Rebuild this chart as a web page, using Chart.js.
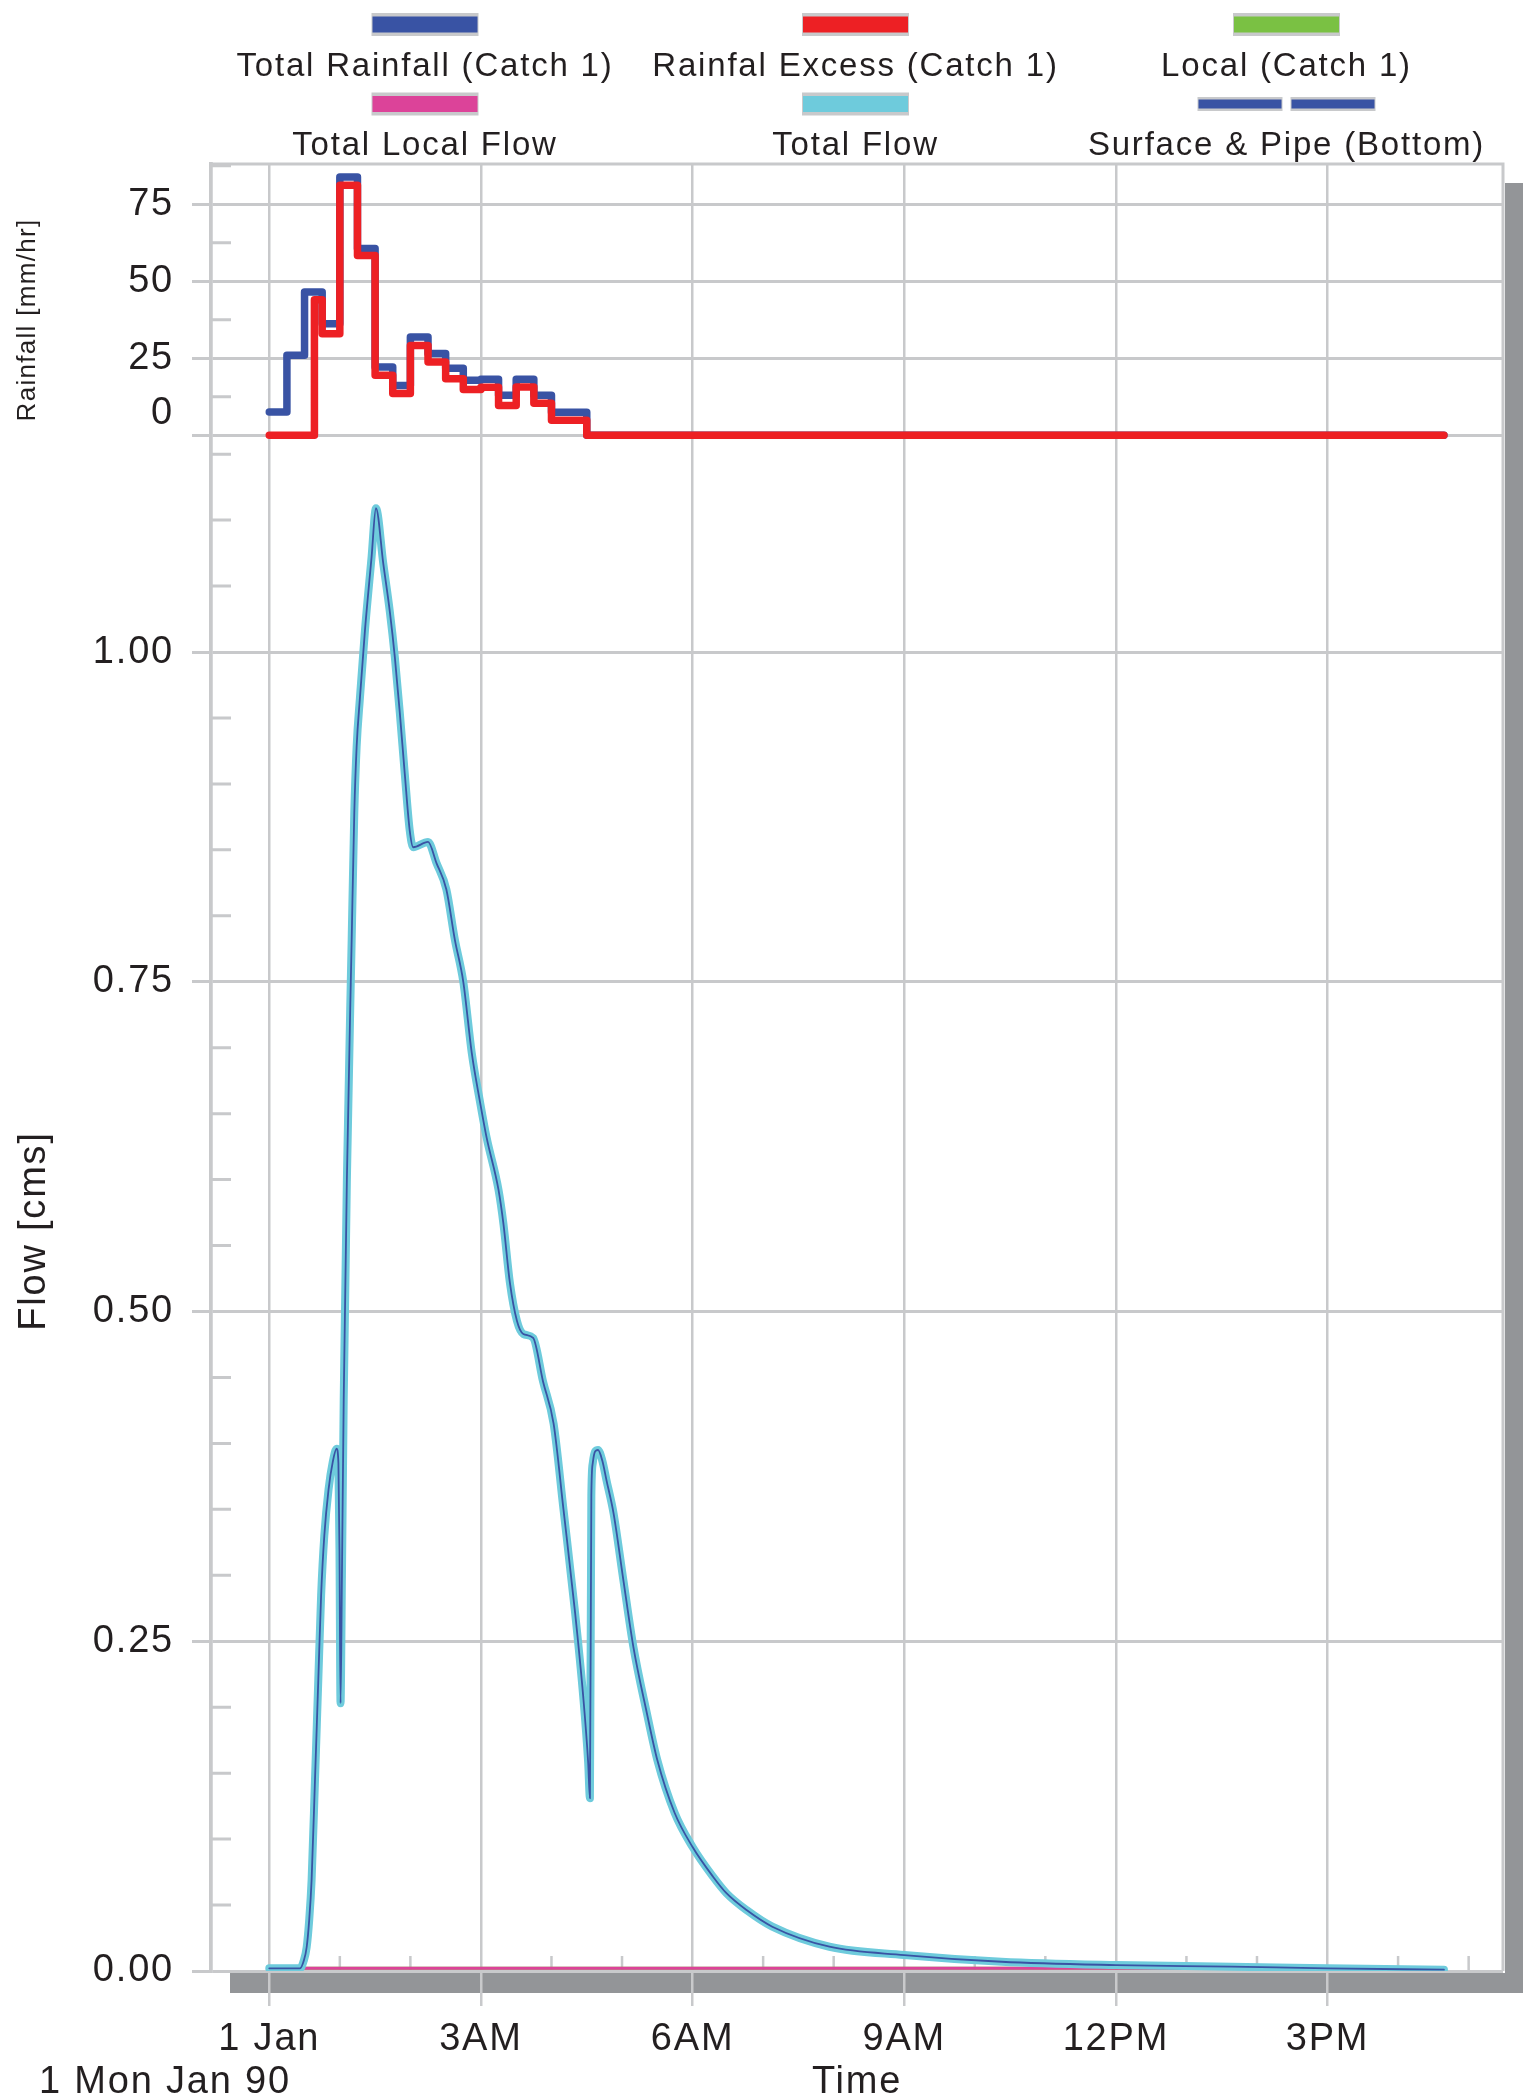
<!DOCTYPE html>
<html>
<head>
<meta charset="utf-8">
<title>Rainfall and Flow</title>
<script src="https://cdn.jsdelivr.net/npm/chart.js@4/dist/chart.umd.min.js"></script>
<style>
  html, body { margin: 0; padding: 0; background: #ffffff; }
  canvas { display: block; }
</style>
</head>
<body>
<canvas id="hydro" width="1523" height="2099"></canvas>
<script>
// Time is in hours after midnight, Mon 1 Jan 1990.

// Rainfall hyetographs (15-minute blocks, mm/hr); each value holds until the next time.
const rainTimes = [0, 0.25, 0.5, 0.75, 1.0, 1.25, 1.5, 1.75, 2.0, 2.25, 2.5, 2.75, 3.0, 3.25, 3.5, 3.75, 4.0, 4.25, 4.5, 16.65];
const totalRainfall = [7.6, 26.0, 46.5, 36.2, 83.9, 60.7, 22.2, 16.2, 31.9, 26.6, 21.8, 17.9, 18.2, 13.0, 18.2, 13.0, 7.5, 7.5, 0, 0];

const excessTimes = [0, 0.64, 0.75, 1.0, 1.25, 1.5, 1.75, 2.0, 2.25, 2.5, 2.75, 3.0, 3.25, 3.5, 3.75, 4.0, 4.25, 4.5, 16.65];
const rainfallExcess = [0, 44.0, 33.0, 81.2, 58.4, 19.5, 13.6, 29.2, 23.8, 18.4, 14.9, 15.6, 9.7, 15.7, 10.4, 4.9, 4.9, 0, 0];

// Outflow hydrograph (cms)
const flowTimes = [
  0, 0.435, 0.49, 0.53, 0.565, 0.60, 0.648, 0.695, 0.735, 0.78, 0.84, 0.90, 0.955, 0.98, 0.995,
  1.01, 1.03, 1.055, 1.10, 1.168, 1.205, 1.238, 1.286, 1.357, 1.45, 1.512, 1.616, 1.71, 1.78, 1.85, 1.92,
  1.99, 2.04, 2.25, 2.37, 2.51, 2.63, 2.75, 2.87, 2.99, 3.08, 3.25, 3.32, 3.41, 3.51, 3.60, 3.74, 3.88,
  4.03, 4.17, 4.33, 4.45, 4.52, 4.545, 4.565, 4.585, 4.62, 4.66, 4.72, 4.78, 4.88, 5.02, 5.16, 5.35, 5.50,
  5.745, 6.0, 6.29, 6.48, 6.77, 7.13, 7.94, 9.0, 10.38, 12.0, 13.64, 15.0, 16.65
];
const totalFlow = [
  0.002, 0.002, 0.008, 0.018, 0.038, 0.069, 0.145, 0.221, 0.285, 0.330, 0.365, 0.386, 0.396, 0.385, 0.320,
  0.203, 0.300, 0.433, 0.600, 0.782, 0.878, 0.928, 0.966, 1.017, 1.072, 1.109, 1.067, 1.030, 0.996, 0.954, 0.908,
  0.865, 0.852, 0.856, 0.840, 0.820, 0.782, 0.750, 0.696, 0.658, 0.632, 0.592, 0.566, 0.522, 0.493, 0.483, 0.480, 0.447,
  0.415, 0.350, 0.274, 0.208, 0.158, 0.131, 0.360, 0.385, 0.394, 0.395, 0.387, 0.372, 0.347, 0.296, 0.246, 0.196, 0.160,
  0.120, 0.094, 0.0715, 0.059, 0.046, 0.0336, 0.0184, 0.0121, 0.007, 0.0045, 0.0033, 0.002, 0.001
];
// The surface & pipe hydrograph at the outlet coincides with the total flow.
const surfacePipeFlow = totalFlow;

const localTimes = [0, 0.5, 4, 8, 12, 16.65];
const totalLocalFlow = [0.002, 0.002, 0.002, 0.002, 0.002, 0.002];
const localCatch1 = totalLocalFlow;

// Axis ticks
const timeTicks = [0, 3, 6, 9, 12, 15];
const timeTickLabels = ['1 Jan', '3AM', '6AM', '9AM', '12PM', '3PM'];
const timeMinorTicks = [1, 2, 4, 5, 7, 8, 10, 11, 13, 14, 16, 17];

const flowTicks = [0, 0.25, 0.5, 0.75, 1.0];
const flowTickLabels = ['0.00', '0.25', '0.50', '0.75', '1.00'];
const flowMinorTicks = [0.05, 0.10, 0.15, 0.20, 0.30, 0.35, 0.40, 0.45, 0.55, 0.60, 0.65, 0.70,
                        0.80, 0.85, 0.90, 0.95, 1.05, 1.10, 1.15];

const rainTicks = [0, 25, 50, 75];
const rainTickLabels = ['0', '25', '50', '75'];
const rainMinorTicks = [12.5, 37.5, 62.5, 87.5];

// ---- styling ----
const FONT = '"Liberation Sans", Arial, Helvetica, sans-serif';
const INK = '#231f20';
const GRID = '#c8c9cb';
const SHADOW = '#939598';
const SPACING = '1.8px';
const ZERO_LABEL_LIFT = 7.15;   // the rainfall "0" label sits a little above its line

const pts = (xs, ys) => xs.map((x, i) => ({ x, y: ys[i] }));

const lineBase = {
  pointRadius: 0,
  pointHoverRadius: 0,
  fill: false,
  borderCapStyle: 'round',
  borderJoinStyle: 'round'
};
const flowClip = { left: 20, top: 20, right: 20, bottom: 0 };

const datasets = [
  Object.assign({}, lineBase, {
    label: 'Total Rainfall (Catch 1)', data: pts(rainTimes, totalRainfall), yAxisID: 'yR',
    borderColor: '#3953a4', borderWidth: 7.5, stepped: true, order: 3
  }),
  Object.assign({}, lineBase, {
    label: 'Rainfal Excess (Catch 1)', data: pts(excessTimes, rainfallExcess), yAxisID: 'yR',
    borderColor: '#ed2024', borderWidth: 7.5, stepped: true, order: 2
  }),
  Object.assign({}, lineBase, {
    label: 'Local (Catch 1)', data: pts(localTimes, localCatch1), yAxisID: 'y',
    borderColor: '#7ac143', borderWidth: 3, clip: flowClip, order: 5
  }),
  Object.assign({}, lineBase, {
    label: 'Total Local Flow', data: pts(localTimes, totalLocalFlow), yAxisID: 'y',
    borderColor: '#dc4399', borderWidth: 3, clip: flowClip, order: 4
  }),
  Object.assign({}, lineBase, {
    label: 'Total Flow', data: pts(flowTimes, totalFlow), yAxisID: 'y',
    borderColor: '#6ecbdc', borderWidth: 8, cubicInterpolationMode: 'monotone', clip: flowClip, order: 1
  }),
  Object.assign({}, lineBase, {
    label: 'Surface & Pipe (Bottom)', data: pts(flowTimes, surfacePipeFlow), yAxisID: 'y',
    borderColor: '#3953a4', borderWidth: 1.8, cubicInterpolationMode: 'monotone', clip: flowClip, order: 0,
    splitSwatch: true
  })
];

// Shadow, frame, minor ticks, legend and side titles
const decor = {
  id: 'decor',
  afterLayout(chart) {
    // both value axes share the left margin; let their labels use all of it
    ['y', 'yR'].forEach(id => { chart.scales[id].left = 0; });
  },
  beforeDraw(chart) {
    const { ctx, chartArea: a } = chart;
    ctx.save();
    ctx.fillStyle = SHADOW;
    ctx.fillRect(a.right + 2, a.top + 19, chart.width - a.right - 2, a.bottom + 22 - (a.top + 19));
    ctx.fillRect(a.left + 19, a.bottom + 2, chart.width - a.left - 19, 20);
    ctx.restore();
    ctx.letterSpacing = SPACING;
  },
  beforeDatasetsDraw(chart) {
    const { ctx, chartArea: a, scales } = chart;
    ctx.save();
    ctx.strokeStyle = GRID;
    ctx.lineCap = 'butt';
    // frame top and right
    ctx.lineWidth = 3;
    ctx.beginPath();
    ctx.moveTo(a.left, a.top);
    ctx.lineTo(a.right + 1.5, a.top);
    ctx.moveTo(a.right, a.top);
    ctx.lineTo(a.right, a.bottom);
    ctx.stroke();
    // minor ticks on the value axes
    ctx.lineWidth = 3;
    ctx.beginPath();
    flowMinorTicks.forEach(v => {
      const y = scales.y.getPixelForValue(v);
      ctx.moveTo(a.left, y); ctx.lineTo(a.left + 20, y);
    });
    rainMinorTicks.forEach(v => {
      const y = scales.yR.getPixelForValue(v);
      ctx.moveTo(a.left, y); ctx.lineTo(a.left + 20, y);
    });
    ctx.stroke();
    // hourly ticks along the time axis
    ctx.lineWidth = 2.5;
    ctx.beginPath();
    timeMinorTicks.forEach(v => {
      const x = scales.x.getPixelForValue(v);
      if (x > a.left && x < a.right) { ctx.moveTo(x, a.bottom - 15); ctx.lineTo(x, a.bottom); }
    });
    ctx.stroke();
    ctx.restore();
  },
  afterDraw(chart) {
    const { ctx } = chart;
    const cols = [425, 855.5, 1286.5];
    const rows = [
      { sw: 24.5, text: 76 },
      { sw: 104, text: 155 }
    ];
    ctx.save();
    ctx.letterSpacing = SPACING;
    chart.data.datasets.forEach((ds, i) => {
      const cx = cols[i % 3];
      const r = rows[Math.floor(i / 3)];
      if (ds.splitSwatch) {
        [cx - 89, cx + 4].forEach(x0 => {
          ctx.fillStyle = GRID;
          ctx.fillRect(x0, r.sw - 7, 85, 14);
          ctx.fillStyle = ds.borderColor;
          ctx.fillRect(x0 + 1, r.sw - 4.5, 83, 9);
        });
      } else {
        ctx.fillStyle = GRID;
        ctx.fillRect(cx - 53.5, r.sw - 11.5, 107, 23);
        ctx.fillStyle = ds.borderColor;
        ctx.fillRect(cx - 52.5, r.sw - 8, 105, 16);
      }
      ctx.fillStyle = INK;
      ctx.font = '33px ' + FONT;
      ctx.textAlign = 'center';
      ctx.textBaseline = 'alphabetic';
      ctx.fillText(ds.label, cx, r.text);
    });

    // vertical axis titles
    ctx.fillStyle = INK;
    ctx.textAlign = 'center';
    ctx.textBaseline = 'alphabetic';
    ctx.save();
    ctx.translate(35, 320);
    ctx.rotate(-Math.PI / 2);
    ctx.font = '26px ' + FONT;
    ctx.letterSpacing = '1.3px';
    ctx.fillText('Rainfall [mm/hr]', 0, 0);
    ctx.restore();

    ctx.save();
    ctx.translate(45, 1231);
    ctx.rotate(-Math.PI / 2);
    ctx.font = '38px ' + FONT;
    ctx.fillText('Flow [cms]', 0, 0);
    ctx.restore();

    // date of the time axis origin
    ctx.font = '38px ' + FONT;
    ctx.textAlign = 'left';
    ctx.textBaseline = 'middle';
    ctx.fillText('1 Mon Jan 90', 39, 2083);
    ctx.restore();
  }
};

const tickFont = { family: FONT, size: 38 };

new Chart(document.getElementById('hydro'), {
  type: 'line',
  data: { datasets },
  plugins: [decor],
  options: {
    responsive: false,
    animation: false,
    devicePixelRatio: 1,
    events: [],
    layout: { autoPadding: false, padding: { left: 211, top: 164, right: 20, bottom: 0 } },
    plugins: { legend: { display: false }, tooltip: { enabled: false }, title: { display: false } },
    scales: {
      x: {
        type: 'linear',
        position: 'bottom',
        min: -0.826,
        max: 17.487,
        afterBuildTicks: s => { s.ticks = timeTicks.map(v => ({ value: v })); },
        afterFit: s => { s.height = 128; },
        ticks: {
          autoSkip: false, maxRotation: 0, padding: 11, font: tickFont, color: INK,
          callback: (v, i) => timeTickLabels[i]
        },
        grid: { color: GRID, lineWidth: 2.5, tickLength: 35 },
        border: { display: false },
        title: { display: true, text: 'Time', color: INK, font: { family: FONT, size: 38, lineHeight: 1 }, padding: { top: 0, bottom: -3 } }
      },
      y: {
        type: 'linear',
        position: 'left',
        min: 0,
        max: 1.370,
        afterBuildTicks: s => { s.ticks = flowTicks.map(v => ({ value: v })); },
        afterFit: s => { s.width = 0; },
        ticks: {
          autoSkip: false, padding: 18, font: tickFont, color: INK,
          callback: (v, i) => flowTickLabels[i]
        },
        grid: { color: GRID, lineWidth: 3, tickLength: 19 },
        border: { color: GRID, width: 3.5 }
      },
      yR: {
        type: 'linear',
        position: 'left',
        min: -498.7,
        max: 88.1,
        afterBuildTicks: s => {
          s.ticks = rainTicks.map(v => ({ value: v }));
          s.ticks.splice(1, 0, { value: rainTicks[0] + ZERO_LABEL_LIFT, labelOnly: true });
        },
        afterFit: s => { s.width = 0; },
        ticks: {
          autoSkip: false, padding: 18, font: tickFont, color: INK,
          callback: (v, i, ticks) => {
            if (ticks[i].labelOnly) return rainTickLabels[0];
            const k = rainTicks.indexOf(v);
            return k > 0 ? rainTickLabels[k] : '';
          }
        },
        grid: {
          color: c => (c.tick && c.tick.labelOnly) ? 'rgba(0,0,0,0)' : GRID,
          lineWidth: 3, tickLength: 19
        },
        border: { color: GRID, width: 3.5 }
      }
    }
  }
});
</script>
</body>
</html>
